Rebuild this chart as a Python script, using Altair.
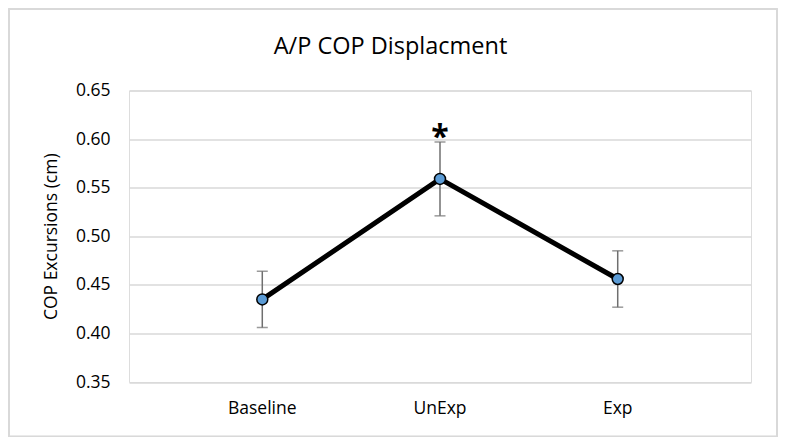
import altair as alt
import pandas as pd

categories = ["Baseline", "UnExp", "Exp"]
means = [0.435, 0.559, 0.456]
errors = [0.029, 0.038, 0.029]
marks = ["", "*", ""]
chart_title = "A/P COP Displacment"

df = pd.DataFrame({
    "cat": categories,
    "mean": means,
    "lo": [m - e for m, e in zip(means, errors)],
    "hi": [m + e for m, e in zip(means, errors)],
    "mark": marks,
})

FONT = "Open Sans"
W, H = 622, 291.5

x = alt.X("cat:N", sort=categories, scale=alt.Scale(padding=0.5),
          axis=alt.Axis(title=None, labelAngle=0, labelFontSize=17.5, labelColor="#000000",
                        labelPadding=17, ticks=False, domain=False, grid=False, labelFont=FONT))
y_axis = alt.Axis(title="COP Excursions (cm)", values=[0.35, 0.40, 0.45, 0.50, 0.55, 0.60, 0.65],
                  format=".2f", labelFontSize=17.5, labelColor="#000000", labelPadding=19,
                  ticks=False, domain=False, gridColor="#d9d9d9", gridWidth=1.5,
                  titleFontSize=17.5, titleFontWeight="normal", titleColor="#000000",
                  titleX=-78, titleY=H / 2, titleAngle=-90, titleAlign="center",
                  titleBaseline="middle", labelFont=FONT, titleFont=FONT)
yscale = alt.Scale(domain=[0.35, 0.65], nice=False, zero=False)

base = alt.Chart(df)

border = base.mark_rect(fill=None, stroke="#d9d9d9", strokeWidth=1.5).encode(
    x=alt.value(-120), x2=alt.value(648), y=alt.value(-81.5), y2=alt.value(346)
)

title = alt.Chart(pd.DataFrame({"t": [chart_title]})).mark_text(
    fontSize=23.5, font=FONT, color="#000000", align="center", baseline="alphabetic"
).encode(x=alt.value(261.5), y=alt.value(-37), text="t:N")

rule = base.mark_rule(color="#6f6f6f", strokeWidth=1.5).encode(
    x=x, y=alt.Y("lo:Q", scale=yscale, axis=y_axis), y2="hi:Q"
)
cap_lo = base.mark_tick(color="#6f6f6f", thickness=1.5, size=11, orient="horizontal").encode(
    x=x, y=alt.Y("lo:Q", scale=yscale)
)
cap_hi = base.mark_tick(color="#6f6f6f", thickness=1.5, size=11, orient="horizontal").encode(
    x=x, y=alt.Y("hi:Q", scale=yscale)
)
line = base.mark_line(color="#000000", strokeWidth=5).encode(
    x=x, y=alt.Y("mean:Q", scale=yscale)
)
pts = base.mark_point(filled=True, fill="#5b9bd5", stroke="#000000", strokeWidth=1.5,
                      size=120, opacity=1, shape="circle").encode(
    x=x, y=alt.Y("mean:Q", scale=yscale)
)
star = base.mark_text(fontSize=32, fontWeight="bold", font=FONT, color="#000000",
                      baseline="middle", dy=-4).encode(
    x=x, y=alt.Y("hi:Q", scale=yscale), text="mark:N"
)

chart = alt.layer(border, title, rule, cap_lo, cap_hi, line, pts, star).properties(
    width=W, height=H,
    autosize="none",
    padding={"left": 121, "top": 82.5, "right": 30, "bottom": 55},
).configure_view(stroke=None).configure(background="#ffffff")

chart.save("out.html", embed_options={"renderer": "svg", "actions": False})
